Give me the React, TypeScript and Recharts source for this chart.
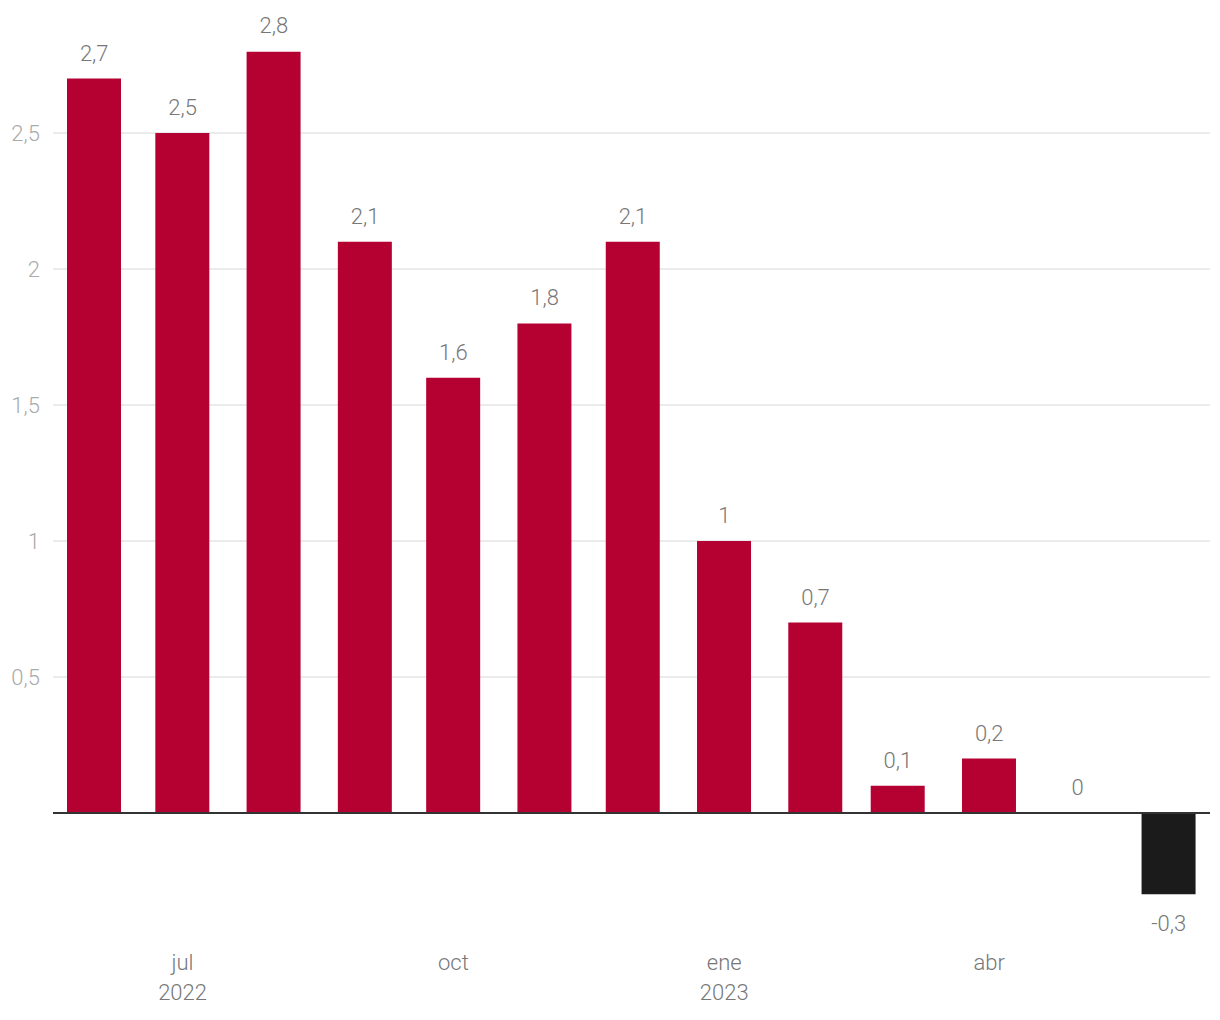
import { ComposedChart, Bar, Line, XAxis, YAxis, CartesianGrid, ReferenceLine, Cell } from 'recharts';

// monthly values, jun 2022 - jun 2023
const months = [
  '2022-06', '2022-07', '2022-08', '2022-09', '2022-10', '2022-11', '2022-12',
  '2023-01', '2023-02', '2023-03', '2023-04', '2023-05', '2023-06',
];
const values = [2.7, 2.5, 2.8, 2.1, 1.6, 1.8, 2.1, 1, 0.7, 0.1, 0.2, 0, -0.3];

const yTicks = [0.5, 1, 1.5, 2, 2.5];
const xTickMonths = ['2022-07', '2022-10', '2023-01', '2023-04'];
const xTickLabels = [['jul', '2022'], ['oct'], ['ene', '2023'], ['abr']];

const FONT = 'Roboto, "Noto Sans", sans-serif';

const dayOf = (m: string) => {
  const [y, mo] = m.split('-').map(Number);
  return (Date.UTC(y, mo - 1, 1) - Date.UTC(2022, 5, 1)) / 86400000;
};

const data = months.map((m, i) => ({ day: dayOf(m), value: values[i] }));
const xTicks = xTickMonths.map(dayOf);

const fmt = (v: number) => String(v).replace('.', ',');

function XTick(props: any) {
  const { x, y, payload } = props;
  const idx = xTicks.indexOf(payload.value);
  const lines = idx >= 0 ? xTickLabels[idx] : [];
  return (
    <g>
      {lines.map((t, i) => (
        <text key={i} x={x} y={y + 67 + i * 30} textAnchor="middle" fill="#777" fontSize={22} fontWeight={300} fontFamily={FONT}>
          {t}
        </text>
      ))}
    </g>
  );
}

function YTick(props: any) {
  const { x, y, payload } = props;
  return (
    <text x={x - 5} y={y + 8} textAnchor="end" fill="#aaa" fontSize={22} fontWeight={300} fontFamily={FONT}>
      {fmt(payload.value)}
    </text>
  );
}

// labels are hung on an invisible line so the zero month gets one too
function ValueLabel(props: any) {
  const { x, y, value } = props;
  const cy = value < 0 ? y + 36 : y - 18;
  return (
    <text x={x} y={cy} textAnchor="middle" fill="#777" fontSize={22} fontWeight={300} fontFamily={FONT}>
      {fmt(value)}
    </text>
  );
}

export default function App() {
  return (
    <div style={{ position: 'absolute', left: 0, top: 0, background: '#fff' }}>
      <ComposedChart width={1220} height={1020} data={data} margin={{ top: 51.4, right: 10, bottom: 65.4, left: 0 }}>
        <CartesianGrid vertical={false} stroke="#e4e4e4" strokeWidth={1.5} horizontalValues={yTicks} />
        <XAxis
          dataKey="day"
          type="number"
          domain={[-14, 379]}
          ticks={xTicks}
          tick={<XTick />}
          axisLine={false}
          tickLine={false}
          height={60}
          allowDataOverflow
        />
        <YAxis
          type="number"
          domain={[-0.3, 2.8]}
          ticks={yTicks}
          tick={<YTick />}
          axisLine={false}
          tickLine={false}
          width={53}
          allowDataOverflow
        />
        <Bar dataKey="value" barSize={54} isAnimationActive={false}>
          {data.map((d, i) => (
            <Cell key={i} fill={d.value < 0 ? '#1b1b1b' : '#b50032'} />
          ))}
        </Bar>
        <ReferenceLine y={0} stroke="#333" strokeWidth={2} />
        <Line
          dataKey="value"
          stroke="none"
          dot={false}
          activeDot={false}
          isAnimationActive={false}
          label={<ValueLabel />}
        />
      </ComposedChart>
    </div>
  );
}
